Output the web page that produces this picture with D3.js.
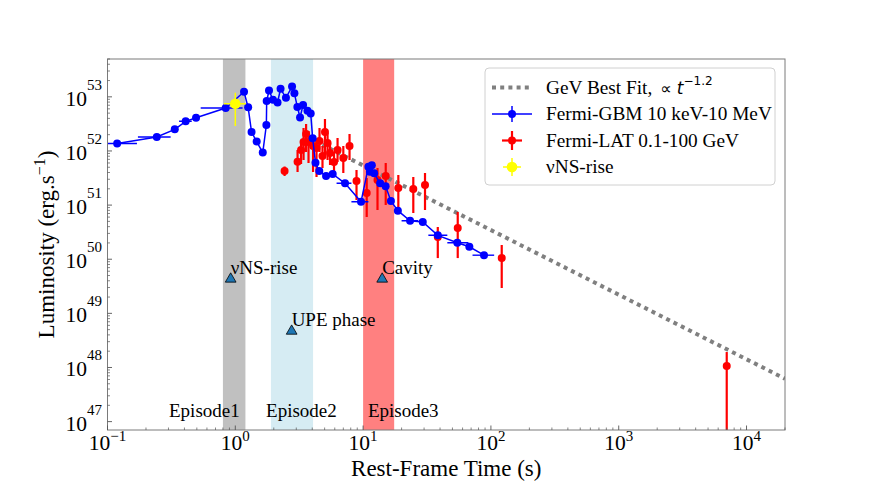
<!DOCTYPE html>
<html><head><meta charset="utf-8">
<script src="https://cdn.jsdelivr.net/npm/d3@7"></script>
<style>body{margin:0;background:#fff} svg{display:block} text{font-family:"Liberation Serif","Times New Roman",serif;fill:#000}</style>
</head><body><svg id="c" width="872" height="491"></svg>
<script>
// ---------------- data ----------------
const gbmTime = [0.119,0.243,0.336,0.409,0.493,0.841,1.17,1.26,1.34,1.47,1.64,1.75,1.76,1.835,1.97,2.14,2.26,2.49,2.78,2.90,3.06,3.21,3.39,3.67,3.89,4.03,4.24,4.54,5.13,5.78,7.22,9.63,11.0,11.7,11.3,12.2,13.6,15.0,16.5,18.7,23.3,29.3,38.4,54.6,67.8,88.3];
const gbmLum  = [1.38e52,1.81e52,2.51e52,3.53e52,4.11e52,6.21e52,1.24e53,6.4e52,2.24e52,1.49e52,9.35e51,3.01e52,8.37e52,1.31e53,8.84e52,7.85e52,1.41e53,9.6e52,1.55e53,1.16e53,6.48e52,4.15e52,7.06e52,5.53e52,4.91e52,1.71e52,6.06e51,4.26e51,3.44e51,3.75e51,2.52e51,1.15e51,5.11e51,5.43e51,4.13e51,3.86e51,2.52e51,2.22e51,1.19e51,7.9e50,5.14e50,4.86e50,2.76e50,2.02e50,1.70e50,1.19e50];
const gbmTimeLo = [0.1,0.173,null,0.363,null,0.536,null,null,null,null,null,null,null,null,null,null,null,null,null,null,null,null,null,null,null,null,null,null,null,null,6.2,8.1,null,null,null,null,null,null,null,null,20.0,null,32.4,45.6,null,71.8];
const gbmTimeHi = [0.17,0.312,null,0.456,null,1.14,null,null,null,null,null,null,null,null,null,null,null,null,null,null,null,null,null,null,null,null,null,null,null,null,8.1,11.0,null,null,null,null,null,null,null,null,27.0,null,45.6,66.7,null,106];

const latTime  = [2.43,3.07,3.27,3.42,3.58,3.74,4.06,4.32,4.56,4.81,5.03,5.27,5.51,5.92,6.31,7.0,7.83,8.88,10.67,12.96,15.03,18.86,24.7,30.5,38.4,55.0,121.5,7000];
const latLum   = [4.26e51,6.32e51,1.04e52,1.46e52,2.05e52,1.46e52,1.23e52,1.13e52,1.53e52,8.06e51,2.24e52,1.40e52,9.16e51,6.24e51,1.04e52,7.4e51,1.23e52,2.78e51,1.67e51,2.9e51,3.44e51,2.07e51,1.98e51,2.35e51,2.57e50,3.77e50,1.05e50,1.06e48];
const latLumLo = [3.44e51,4.08e51,5.74e51,6.8e51,9.55e51,5.98e51,4.08e51,3.3e51,9.55e51,4.84e51,8.41e51,6.8e51,5.5e51,3.3e51,6.24e51,3.91e51,6.8e51,1.24e51,6.02e50,8.1e50,1.0e51,7.13e50,7.13e50,8.1e50,1.05e50,1.05e50,2.94e49,1e45];
const latLumHi = [5.15e51,1.04e52,1.53e52,2.65e52,3.15e52,2.33e52,1.81e52,1.59e52,2.65e52,1.23e52,3.89e52,2.14e52,1.40e52,9.55e51,1.73e52,1.23e52,2.05e52,4.44e51,3.16e51,4.84e51,5.98e51,3.59e51,3.3e51,3.91e51,3.93e50,7.44e50,1.83e50,1.93e48];

const nsTime = [1.0], nsLum = [7.46e52];
const nsTimeLo = [0.816], nsTimeHi = [1.21];
const nsLumLo = [2.89e52], nsLumHi = [1.19e53];

const fitTime = [4.2, 2e4];
const fitLum  = [1.52e52, 6.2e47];

const bandStart = [0.8, 1.9, 10.0];
const bandEnd   = [1.2, 4.06, 17.5];
const bandColor = ["#c0c0c0", "#d6ecf3", "#ff8080"];

const episodeLabel = ["Episode1","Episode2","Episode3"];
const episodeTime  = [0.303, 1.74, 10.9];
const episodeLum   = [1.2e47, 1.2e47, 1.2e47];

const markLabel = ["νNS-rise","UPE phase","Cavity"];
const markTime  = [0.92, 2.76, 14.1];
const markLum   = [4.4e49, 4.8e48, 4.4e49];

const xTickExp = [-1,0,1,2,3,4];
const yTickExp = [47,48,49,50,51,52,53];

const legendLabels = ["GeV Best Fit,", "Fermi-GBM 10 keV-10 MeV", "Fermi-LAT 0.1-100 GeV", "νNS-rise"];

// ---------------- chart ----------------
const svg = d3.select("#c");
const L = 107.5, R = 785, T = 59, B = 430;
const x = d3.scaleLog().domain([0.1, 2e4]).range([L, R]);
const y = d3.scaleLog().domain([7e46, 5e53]).range([B, T]);
const minus = s => String(s).replace("-", "\u2212");

svg.append("defs").append("clipPath").attr("id","clip")
  .append("rect").attr("x",L).attr("y",T).attr("width",R-L).attr("height",B-T);
const plot = svg.append("g").attr("clip-path","url(#clip)");

// bands
plot.selectAll(".band").data(bandStart).enter().append("rect")
  .attr("x",(d,i)=>x(d)).attr("width",(d,i)=>x(bandEnd[i])-x(d))
  .attr("y",T).attr("height",B-T).attr("fill",(d,i)=>bandColor[i]);

// fit line
plot.append("path").datum(fitTime.map((t,i)=>[t,fitLum[i]]))
  .attr("d", d3.line().x(d=>x(d[0])).y(d=>y(d[1])))
  .attr("fill","none").attr("stroke","#808080").attr("stroke-width",4)
  .attr("stroke-dasharray","4,4.2");

// LAT (red)
const red = "#ff0000";
plot.selectAll(".latErr").data(latTime).enter().append("line")
  .attr("x1",d=>x(d)).attr("x2",d=>x(d))
  .attr("y1",(d,i)=>y(latLumLo[i])).attr("y2",(d,i)=>y(latLumHi[i]))
  .attr("stroke",red).attr("stroke-width",2.2);
plot.selectAll(".latPt").data(latTime).enter().append("circle")
  .attr("cx",d=>x(d)).attr("cy",(d,i)=>y(latLum[i])).attr("r",4).attr("fill",red);

// GBM (blue)
const blue = "#0000ff";
plot.append("path").datum(gbmTime.map((t,i)=>[t,gbmLum[i]]))
  .attr("d", d3.line().x(d=>x(d[0])).y(d=>y(d[1])))
  .attr("fill","none").attr("stroke",blue).attr("stroke-width",1.5);
plot.selectAll(".gbmErr").data(gbmTime.filter((d,i)=>gbmTimeLo[i]!==null).map(d=>gbmTime.indexOf(d)))
  .enter().append("line")
  .attr("x1",i=>x(gbmTimeLo[i])).attr("x2",i=>x(gbmTimeHi[i]))
  .attr("y1",i=>y(gbmLum[i])).attr("y2",i=>y(gbmLum[i]))
  .attr("stroke",blue).attr("stroke-width",1.5);
plot.selectAll(".gbmPt").data(gbmTime).enter().append("circle")
  .attr("cx",d=>x(d)).attr("cy",(d,i)=>y(gbmLum[i])).attr("r",4).attr("fill",blue);

// nu NS-rise (yellow)
const yel = "#ffff00";
nsTime.forEach((t,i)=>{
  plot.append("line").attr("x1",x(nsTimeLo[i])).attr("x2",x(nsTimeHi[i]))
    .attr("y1",y(nsLum[i])).attr("y2",y(nsLum[i])).attr("stroke",yel).attr("stroke-width",1.5);
  plot.append("line").attr("x1",x(t)).attr("x2",x(t))
    .attr("y1",y(nsLumLo[i])).attr("y2",y(nsLumHi[i])).attr("stroke",yel).attr("stroke-width",1.5);
  plot.append("circle").attr("cx",x(t)).attr("cy",y(nsLum[i])).attr("r",5.3).attr("fill",yel);
});

// triangles + labels
const tri = d3.symbol().type(d3.symbolTriangle).size(50);
markTime.forEach((t,i)=>{
  svg.append("path").attr("d",tri()).attr("transform",`translate(${x(t)},${y(markLum[i])+0.5})`)
    .attr("fill","#1f77b4").attr("stroke","#000").attr("stroke-width",0.8);
  svg.append("text").attr("x",x(t)).attr("y",y(markLum[i])-4.5)
    .attr("font-size",19).text(markLabel[i]);
});
episodeLabel.forEach((s,i)=>{
  svg.append("text").attr("x",x(episodeTime[i])).attr("y",y(episodeLum[i]))
    .attr("font-size",19).text(s);
});

// spines
svg.append("rect").attr("x",L).attr("y",T).attr("width",R-L).attr("height",B-T)
  .attr("fill","none").attr("stroke","#7a7a7a").attr("stroke-width",1);

// x ticks
const ax = svg.append("g");
xTickExp.forEach(e=>{
  for(let k=1;k<=9;k++){
    const v = k*Math.pow(10,e);
    if(v<0.1*0.999||v>2e4*1.001) continue;
    ax.append("line").attr("x1",x(v)).attr("x2",x(v)).attr("y1",B).attr("y2",B-(k===1?4.5:2.5))
      .attr("stroke","#555").attr("stroke-width",k===1?0.9:0.7);
  }
  const t = ax.append("text").attr("x",x(Math.pow(10,e))).attr("y",450)
    .attr("text-anchor","middle").attr("font-size",21.5);
  t.append("tspan").text("10");
  t.append("tspan").attr("font-size",15).attr("dy",-9).text(minus(e));
});
// y ticks
yTickExp.forEach(e=>{
  for(let k=1;k<=9;k++){
    const v = k*Math.pow(10,e);
    if(v<7e46*0.999||v>5e53*1.001) continue;
    ax.append("line").attr("x1",L).attr("x2",L+(k===1?4.5:2.5)).attr("y1",y(v)).attr("y2",y(v))
      .attr("stroke","#555").attr("stroke-width",k===1?0.9:0.7);
  }
  const t = ax.append("text").attr("x",102).attr("y",y(Math.pow(10,e))+9)
    .attr("text-anchor","end").attr("font-size",21.5);
  t.append("tspan").text("10");
  t.append("tspan").attr("font-size",15).attr("dy",-16).text(e);
});

// axis labels
svg.append("text").attr("x",(L+R)/2).attr("y",476).attr("text-anchor","middle")
  .attr("font-size",23).text("Rest-Frame Time (s)");
const yl = svg.append("text").attr("transform",`translate(54,${(T+B)/2}) rotate(-90)`)
  .attr("text-anchor","middle").attr("font-size",23);
yl.append("tspan").text("Luminosity (erg.s");
yl.append("tspan").attr("font-size",16).attr("dy",-9).text("\u22121");
yl.append("tspan").attr("dy",9).text(")");

// legend
const lg = svg.append("g");
lg.append("rect").attr("x",485).attr("y",68).attr("width",290).attr("height",117).attr("rx",4)
  .attr("fill","#fff").attr("fill-opacity",0.8).attr("stroke","#d0d0d0");
const rowY = [87.5,114,140.5,167], hx = 512, tx = 546;
lg.append("line").attr("x1",492).attr("x2",532).attr("y1",rowY[0]).attr("y2",rowY[0])
  .attr("stroke","#808080").attr("stroke-width",4).attr("stroke-dasharray","4,4.2");
lg.append("line").attr("x1",492).attr("x2",532).attr("y1",rowY[1]).attr("y2",rowY[1]).attr("stroke",blue).attr("stroke-width",1.5);
lg.append("line").attr("x1",hx).attr("x2",hx).attr("y1",rowY[1]-8).attr("y2",rowY[1]+8).attr("stroke",blue).attr("stroke-width",1.5);
lg.append("circle").attr("cx",hx).attr("cy",rowY[1]).attr("r",4).attr("fill",blue);
lg.append("line").attr("x1",502).attr("x2",522).attr("y1",rowY[2]).attr("y2",rowY[2]).attr("stroke",red).attr("stroke-width",2.2);
lg.append("line").attr("x1",hx).attr("x2",hx).attr("y1",rowY[2]-9.5).attr("y2",rowY[2]+9.5).attr("stroke",red).attr("stroke-width",2.2);
lg.append("circle").attr("cx",hx).attr("cy",rowY[2]).attr("r",4).attr("fill",red);
lg.append("line").attr("x1",503).attr("x2",521).attr("y1",rowY[3]).attr("y2",rowY[3]).attr("stroke",yel).attr("stroke-width",1.5);
lg.append("line").attr("x1",hx).attr("x2",hx).attr("y1",rowY[3]-9).attr("y2",rowY[3]+9).attr("stroke",yel).attr("stroke-width",1.5);
lg.append("circle").attr("cx",hx).attr("cy",rowY[3]).attr("r",5.3).attr("fill",yel);

legendLabels.forEach((s,i)=>{
  const t = lg.append("text").attr("x",tx).attr("y",rowY[i]+6).attr("font-size",19.3);
  t.append("tspan").text(s);
  if(i===0){
    t.append("tspan").attr("dx",8).attr("font-family","DejaVu Sans").attr("font-size",16).text("\u221d ");
    t.append("tspan").attr("font-family","DejaVu Sans").attr("font-style","italic").attr("font-size",17).text("t");
    t.append("tspan").attr("font-family","DejaVu Sans").attr("font-size",12).attr("dy",-9).text("\u22121.2");
  }
});
</script></body></html>
